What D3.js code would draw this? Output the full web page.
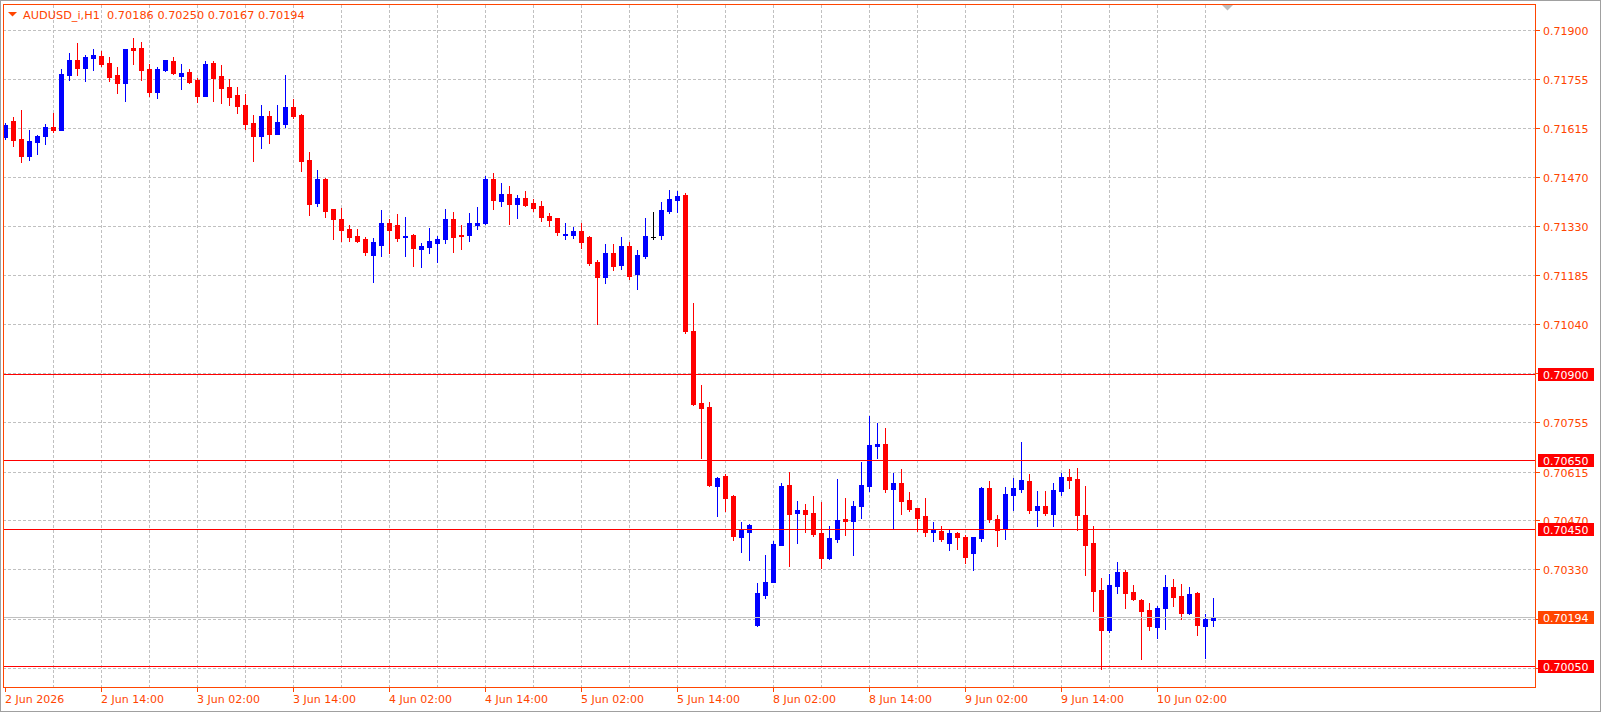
<!DOCTYPE html>
<html lang="en">
<head>
<meta charset="UTF-8">
<title>AUDUSD_i,H1</title>
<script src="https://cdn.jsdelivr.net/npm/d3@7"></script>
<style>
    body { margin: 0; background: #fff; }
    svg { display: block; font-family: "DejaVu Sans", sans-serif; font-size: 11px; }
</style>
</head>
<body>
<script>
// hourly candles, 2 Jun 02:00 .. 10 Jun 09:00 (weekend skipped)
const openP = [
    0.71592, 0.71637, 0.71585, 0.71536, 0.71577, 0.71595, 0.71620, 0.71612, 0.71772, 0.71815,
    0.71793, 0.71822, 0.71827, 0.71806, 0.71771, 0.71749, 0.71850, 0.71850, 0.71789, 0.71723,
    0.71786, 0.71812, 0.71767, 0.71780, 0.71757, 0.71711, 0.71806, 0.71768, 0.71736, 0.71713,
    0.71684, 0.71631, 0.71595, 0.71652, 0.71600, 0.71630, 0.71678, 0.71655, 0.71524, 0.71400,
    0.71469, 0.71381, 0.71352, 0.71323, 0.71303, 0.71294, 0.71248, 0.71277, 0.71340, 0.71335,
    0.71300, 0.71306, 0.71266, 0.71272, 0.71283, 0.71295, 0.71352, 0.71306, 0.71306, 0.71336,
    0.71340, 0.71469, 0.71405, 0.71425, 0.71397, 0.71413, 0.71399, 0.71390, 0.71361, 0.71355,
    0.71306, 0.71306, 0.71318, 0.71300, 0.71228, 0.71184, 0.71253, 0.71219, 0.71273, 0.71193,
    0.71245, 0.71301, 0.71306, 0.71376, 0.71408, 0.71422, 0.71026, 0.70816, 0.70805, 0.70576,
    0.70604, 0.70546, 0.70427, 0.70442, 0.70170, 0.70258, 0.70295, 0.70404, 0.70578, 0.70497,
    0.70505, 0.70496, 0.70438, 0.70365, 0.70422, 0.70479, 0.70474, 0.70518, 0.70576, 0.70692,
    0.70697, 0.70567, 0.70584, 0.70534, 0.70511, 0.70488, 0.70442, 0.70444, 0.70410, 0.70438,
    0.70426, 0.70381, 0.70424, 0.70569, 0.70479, 0.70449, 0.70550, 0.70567, 0.70589, 0.70506,
    0.70517, 0.70494, 0.70561, 0.70601, 0.70595, 0.70491, 0.70409, 0.70272, 0.70157, 0.70285,
    0.70325, 0.70266, 0.70243, 0.70214, 0.70165, 0.70220, 0.70281, 0.70255, 0.70206, 0.70263,
    0.70168, 0.70186
];
const highP = [
    0.71631, 0.71649, 0.71669, 0.71611, 0.71597, 0.71629, 0.71661, 0.71789, 0.71835, 0.71864,
    0.71830, 0.71847, 0.71841, 0.71824, 0.71795, 0.71847, 0.71879, 0.71867, 0.71803, 0.71795,
    0.71815, 0.71824, 0.71804, 0.71789, 0.71763, 0.71812, 0.71812, 0.71800, 0.71760, 0.71736,
    0.71716, 0.71655, 0.71684, 0.71666, 0.71684, 0.71771, 0.71701, 0.71658, 0.71547, 0.71495,
    0.71471, 0.71381, 0.71384, 0.71335, 0.71323, 0.71300, 0.71297, 0.71378, 0.71352, 0.71367,
    0.71358, 0.71308, 0.71282, 0.71326, 0.71303, 0.71381, 0.71372, 0.71335, 0.71370, 0.71387,
    0.71477, 0.71486, 0.71457, 0.71448, 0.71422, 0.71434, 0.71410, 0.71404, 0.71370, 0.71355,
    0.71340, 0.71329, 0.71340, 0.71303, 0.71234, 0.71279, 0.71279, 0.71300, 0.71285, 0.71262,
    0.71355, 0.71372, 0.71402, 0.71437, 0.71434, 0.71428, 0.71108, 0.70869, 0.70819, 0.70601,
    0.70610, 0.70549, 0.70471, 0.70464, 0.70293, 0.70374, 0.70415, 0.70584, 0.70615, 0.70531,
    0.70522, 0.70546, 0.70528, 0.70458, 0.70595, 0.70540, 0.70531, 0.70645, 0.70779, 0.70758,
    0.70744, 0.70613, 0.70624, 0.70557, 0.70511, 0.70540, 0.70470, 0.70458, 0.70447, 0.70441,
    0.70432, 0.70426, 0.70572, 0.70589, 0.70490, 0.70572, 0.70598, 0.70703, 0.70610, 0.70560,
    0.70560, 0.70584, 0.70613, 0.70624, 0.70627, 0.70575, 0.70458, 0.70307, 0.70319, 0.70354,
    0.70330, 0.70287, 0.70246, 0.70234, 0.70226, 0.70316, 0.70304, 0.70290, 0.70281, 0.70266,
    0.70202, 0.70250
];
const lowP = [
    0.71584, 0.71566, 0.71519, 0.71525, 0.71542, 0.71571, 0.71606, 0.71612, 0.71757, 0.71772,
    0.71755, 0.71787, 0.71798, 0.71755, 0.71720, 0.71697, 0.71804, 0.71758, 0.71711, 0.71705,
    0.71783, 0.71775, 0.71731, 0.71748, 0.71694, 0.71711, 0.71696, 0.71691, 0.71685, 0.71662,
    0.71615, 0.71522, 0.71560, 0.71574, 0.71600, 0.71621, 0.71647, 0.71493, 0.71365, 0.71391,
    0.71359, 0.71295, 0.71289, 0.71289, 0.71286, 0.71248, 0.71170, 0.71245, 0.71254, 0.71289,
    0.71245, 0.71216, 0.71213, 0.71254, 0.71228, 0.71283, 0.71257, 0.71266, 0.71289, 0.71324,
    0.71338, 0.71382, 0.71391, 0.71338, 0.71356, 0.71391, 0.71376, 0.71347, 0.71333, 0.71306,
    0.71295, 0.71298, 0.71269, 0.71219, 0.71047, 0.71167, 0.71205, 0.71207, 0.71178, 0.71149,
    0.71239, 0.71295, 0.71295, 0.71371, 0.71373, 0.71021, 0.70812, 0.70657, 0.70576, 0.70488,
    0.70503, 0.70419, 0.70384, 0.70360, 0.70167, 0.70249, 0.70295, 0.70404, 0.70343, 0.70410,
    0.70442, 0.70430, 0.70337, 0.70363, 0.70413, 0.70433, 0.70375, 0.70483, 0.70561, 0.70657,
    0.70558, 0.70451, 0.70494, 0.70503, 0.70445, 0.70430, 0.70416, 0.70416, 0.70390, 0.70392,
    0.70352, 0.70331, 0.70416, 0.70471, 0.70401, 0.70422, 0.70505, 0.70556, 0.70497, 0.70459,
    0.70491, 0.70457, 0.70550, 0.70570, 0.70448, 0.70317, 0.70212, 0.70041, 0.70151, 0.70264,
    0.70221, 0.70244, 0.70072, 0.70157, 0.70133, 0.70160, 0.70227, 0.70189, 0.70203, 0.70142,
    0.70075, 0.70167
];
const closeP = [
    0.71626, 0.71583, 0.71536, 0.71579, 0.71594, 0.71620, 0.71612, 0.71774, 0.71815, 0.71793,
    0.71824, 0.71830, 0.71804, 0.71766, 0.71749, 0.71847, 0.71845, 0.71787, 0.71723, 0.71789,
    0.71815, 0.71778, 0.71778, 0.71751, 0.71711, 0.71803, 0.71763, 0.71734, 0.71708, 0.71682,
    0.71630, 0.71595, 0.71652, 0.71600, 0.71634, 0.71678, 0.71653, 0.71522, 0.71397, 0.71469,
    0.71376, 0.71353, 0.71321, 0.71301, 0.71289, 0.71257, 0.71285, 0.71340, 0.71321, 0.71298,
    0.71303, 0.71269, 0.71274, 0.71288, 0.71294, 0.71352, 0.71301, 0.71303, 0.71340, 0.71340,
    0.71469, 0.71408, 0.71425, 0.71397, 0.71413, 0.71394, 0.71385, 0.71359, 0.71350, 0.71315,
    0.71309, 0.71318, 0.71286, 0.71225, 0.71184, 0.71253, 0.71216, 0.71273, 0.71187, 0.71247,
    0.71303, 0.71301, 0.71378, 0.71410, 0.71419, 0.71027, 0.70815, 0.70803, 0.70579, 0.70598,
    0.70541, 0.70430, 0.70447, 0.70461, 0.70263, 0.70295, 0.70406, 0.70575, 0.70494, 0.70505,
    0.70494, 0.70436, 0.70365, 0.70423, 0.70476, 0.70474, 0.70517, 0.70578, 0.70694, 0.70697,
    0.70567, 0.70584, 0.70532, 0.70509, 0.70483, 0.70442, 0.70447, 0.70422, 0.70438, 0.70427,
    0.70369, 0.70426, 0.70569, 0.70480, 0.70448, 0.70552, 0.70569, 0.70592, 0.70505, 0.70517,
    0.70497, 0.70563, 0.70601, 0.70593, 0.70489, 0.70404, 0.70270, 0.70157, 0.70287, 0.70325,
    0.70264, 0.70247, 0.70212, 0.70168, 0.70220, 0.70281, 0.70253, 0.70206, 0.70261, 0.70171,
    0.70188, 0.70194
];

// price grid (right axis)
const gridPrices = [0.71901, 0.71759, 0.71616, 0.71473, 0.71331, 0.71188, 0.71045,
                    0.70903, 0.70760, 0.70617, 0.70475, 0.70332, 0.70189, 0.70044];
const gridLabels = ["0.71900", "0.71755", "0.71615", "0.71470", "0.71330", "0.71185", "0.71040",
                    "0.70900", "0.70755", "0.70615", "0.70470", "0.70330", "0.70190", "0.70050"];

// time axis: bar index of each label
const timeTickBars = [0, 12, 24, 36, 48, 60, 72, 84, 96, 108, 120, 132, 144];
const timeTickLabels = ["2 Jun 2026", "2 Jun 14:00", "3 Jun 02:00", "3 Jun 14:00", "4 Jun 02:00",
                        "4 Jun 14:00", "5 Jun 02:00", "5 Jun 14:00", "8 Jun 02:00", "8 Jun 14:00",
                        "9 Jun 02:00", "9 Jun 14:00", "10 Jun 02:00"];

// horizontal line objects
const levelPrices = [0.70900, 0.70650, 0.70450, 0.70050];
const levelLabels = ["0.70900", "0.70650", "0.70450", "0.70050"];

const symbolName = "AUDUSD_i,H1";
const bidPrice = 0.70194;

const width = 1601, height = 713;
const plot = { left: 3, top: 4, right: 1535, bottom: 687 };
const barStep = 8;
const fg = "#FF4500";
const upColor = "#0000FF", downColor = "#FF0000", dojiColor = "#000000";
const gridColor = "#C0C0C0";

const bars = openP.map((o, i) => ({ i: i, o: o, h: highP[i], l: lowP[i], c: closeP[i] }));

const svg = d3.select("body").append("svg")
    .attr("width", width)
    .attr("height", height);

const x = d3.scaleLinear()
    .domain([0, bars.length - 1])
    .range([plot.left + 2, plot.left + 2 + (bars.length - 1) * barStep]);
const y = d3.scaleLinear()
    .domain([0.699883, 0.719765])
    .range([plot.bottom + 0.5, plot.top + 0.5]);

const py = v => Math.round(y(v));

// window border
svg.append("rect")
    .attr("x", 0.5).attr("y", 0.5)
    .attr("width", width - 1).attr("height", height - 2)
    .attr("fill", "none").attr("stroke", "#A0A0A0");

// grid
const grid = svg.append("g").attr("shape-rendering", "crispEdges");
grid.selectAll("line.h")
    .data(gridPrices)
    .enter().append("line")
    .attr("class", "h")
    .attr("x1", plot.left).attr("x2", plot.right)
    .attr("y1", d => py(d) + 0.5).attr("y2", d => py(d) + 0.5)
    .attr("stroke", gridColor).attr("stroke-dasharray", "3,2");

const vGridBars = d3.range(6, bars.length, 6);
grid.selectAll("line.v")
    .data(vGridBars)
    .enter().append("line")
    .attr("class", "v")
    .attr("x1", d => x(d) + 0.5).attr("x2", d => x(d) + 0.5)
    .attr("y1", plot.top + 1).attr("y2", plot.bottom)
    .attr("stroke", gridColor).attr("stroke-dasharray", "3,2");

// candles
const candles = svg.append("g").attr("shape-rendering", "crispEdges");
const colorOf = d => d.c > d.o ? upColor : (d.c < d.o ? downColor : dojiColor);

candles.selectAll("rect.wick")
    .data(bars)
    .enter().append("rect")
    .attr("class", "wick")
    .attr("x", d => x(d.i))
    .attr("width", 1)
    .attr("y", d => py(d.h))
    .attr("height", d => py(d.l) - py(d.h) + 1)
    .attr("fill", colorOf);

candles.selectAll("rect.body")
    .data(bars)
    .enter().append("rect")
    .attr("class", "body")
    .attr("x", d => x(d.i) - 2)
    .attr("width", 5)
    .attr("y", d => py(Math.max(d.o, d.c)))
    .attr("height", d => Math.max(1, py(Math.min(d.o, d.c)) - py(Math.max(d.o, d.c)) + 1))
    .attr("fill", colorOf);

// bid line
svg.append("rect")
    .attr("x", plot.left).attr("width", plot.right - plot.left)
    .attr("y", py(bidPrice)).attr("height", 1)
    .attr("fill", gridColor)
    .attr("shape-rendering", "crispEdges");

// horizontal line objects
svg.append("g").selectAll("rect")
    .data(levelPrices)
    .enter().append("rect")
    .attr("x", plot.left).attr("width", plot.right - plot.left)
    .attr("y", d => py(d)).attr("height", 1)
    .attr("fill", "#FF0000")
    .attr("shape-rendering", "crispEdges");

// frame
svg.append("rect")
    .attr("x", plot.left + 0.5).attr("y", plot.top + 0.5)
    .attr("width", plot.right - plot.left).attr("height", plot.bottom - plot.top)
    .attr("fill", "none").attr("stroke", fg)
    .attr("shape-rendering", "crispEdges");

// right price scale
const yAxis = svg.append("g");
yAxis.selectAll("line")
    .data(gridPrices)
    .enter().append("line")
    .attr("x1", plot.right + 1).attr("x2", plot.right + 5)
    .attr("y1", d => py(d) + 0.5).attr("y2", d => py(d) + 0.5)
    .attr("stroke", fg).attr("shape-rendering", "crispEdges");
yAxis.selectAll("text")
    .data(gridPrices)
    .enter().append("text")
    .attr("x", plot.right + 8)
    .attr("y", d => py(d) + 4.5)
    .attr("fill", fg)
    .text((d, i) => gridLabels[i]);

// time scale
const xAxis = svg.append("g");
xAxis.selectAll("line")
    .data(timeTickBars)
    .enter().append("line")
    .attr("x1", d => x(d) + 0.5).attr("x2", d => x(d) + 0.5)
    .attr("y1", plot.bottom).attr("y2", plot.bottom + 5)
    .attr("stroke", fg).attr("shape-rendering", "crispEdges");
xAxis.selectAll("text")
    .data(timeTickBars)
    .enter().append("text")
    .attr("x", d => x(d))
    .attr("y", plot.bottom + 16)
    .attr("fill", fg)
    .text((d, i) => timeTickLabels[i]);

// price tags on the scale
function priceTag(price, label, bg) {
    const g = svg.append("g");
    g.append("rect")
        .attr("x", plot.right + 3).attr("y", py(price) - 6)
        .attr("width", 56).attr("height", 13)
        .attr("fill", bg).attr("shape-rendering", "crispEdges");
    g.append("text")
        .attr("x", plot.right + 8).attr("y", py(price) + 4.5)
        .attr("fill", "#FFFFFF")
        .text(label);
}
levelPrices.forEach((p, i) => priceTag(p, levelLabels[i], "#FF0000"));
priceTag(bidPrice, bidPrice.toFixed(5), fg);

// header
const last = bars[bars.length - 1];
svg.append("path")
    .attr("d", "M8,12 L17,12 L12.5,16.5 Z")
    .attr("fill", fg);
svg.append("text")
    .attr("x", 23).attr("y", 18.5)
    .attr("fill", fg)
    .attr("xml:space", "preserve")
    .style("font-size", "11.3px")
    .text(symbolName + "  " + [last.o, last.h, last.l, last.c].map(v => v.toFixed(5)).join(" "));

// chart shift marker
svg.append("path")
    .attr("d", "M1222,5 L1233,5 L1227.5,10.5 Z")
    .attr("fill", "#BDBDBD");
</script>
</body>
</html>
